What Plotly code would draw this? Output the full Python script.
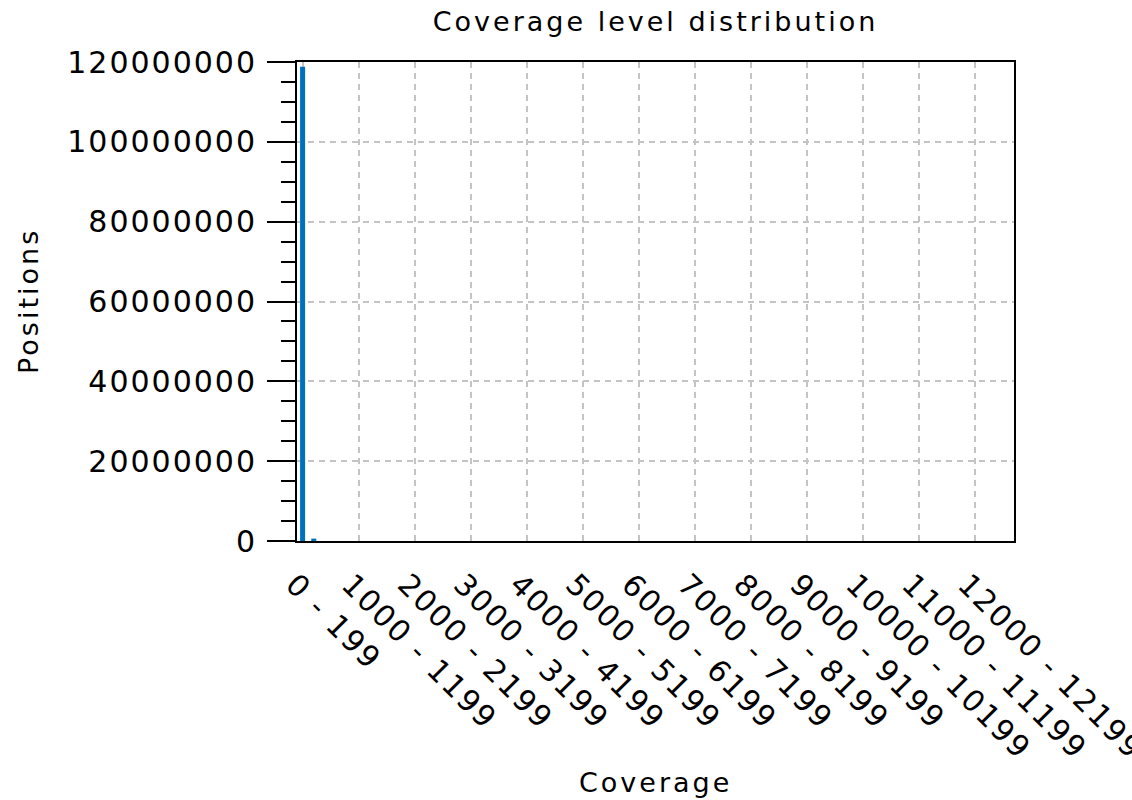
import plotly.graph_objects as go

# Coverage histogram: 64 bins of width 200 (bin index 0 = "0 - 199")
bin_index = list(range(64))
positions = [
    118800000, 600000, 0, 0, 0, 0, 0, 0,
    0, 0, 0, 0, 0, 0, 0, 0,
    0, 0, 0, 0, 0, 0, 0, 0,
    0, 0, 0, 0, 0, 0, 0, 0,
    0, 0, 0, 0, 0, 0, 0, 0,
    0, 0, 0, 0, 0, 0, 0, 0,
    0, 0, 0, 0, 0, 0, 0, 0,
    0, 0, 0, 0, 0, 0, 0, 0,
]

# Labelled bins (every 5th bin)
tick_bins = list(range(0, 61, 5))
tick_text = [f"{b * 200} - {b * 200 + 199}" for b in tick_bins]

y_ticks = list(range(0, 120000001, 20000000))

FONT = "DejaVu Sans"

fig = go.Figure(
    go.Bar(
        x=bin_index,
        y=positions,
        width=0.45,
        marker=dict(color="#0072bd", line=dict(width=0)),
    )
)

fig.update_layout(
    width=1132,
    height=800,
    paper_bgcolor="white",
    plot_bgcolor="white",
    margin=dict(l=297, r=118, t=62, b=259, autoexpand=False),
    showlegend=False,
    font=dict(family=FONT, color="black"),
    title=dict(
        text="Coverage level distribution",
        x=0.5,
        xref="paper",
        y=1 - 22 / 800,
        yanchor="middle",
        font=dict(family=FONT, size=27, color="black"),
    ),
    annotations=[
        dict(
            text="Coverage",
            xref="paper", yref="paper",
            x=0.5, y=0,
            xanchor="center", yanchor="middle",
            yshift=-241,
            showarrow=False,
            font=dict(family=FONT, size=27, color="black"),
        ),
        dict(
            text="Positions",
            xref="paper", yref="paper",
            x=0, y=0.5,
            xanchor="center", yanchor="middle",
            xshift=-269,
            textangle=-90,
            showarrow=False,
            font=dict(family=FONT, size=27, color="black"),
        ),
    ],
)

fig.update_xaxes(
    range=[-0.5, 63.5],
    tickmode="array",
    tickvals=tick_bins,
    ticktext=tick_text,
    tickangle=45,
    ticks="",
    ticklabeloverflow="allow",
    ticklabelstandoff=12,
    ticklabelshift=-8,
    tickfont=dict(family=FONT, size=30, color="black"),
    showline=True,
    linecolor="black",
    linewidth=2,
    mirror=True,
    showgrid=True,
    gridcolor="#c4c4c4",
    gridwidth=2,
    griddash="6px,5px",
    zeroline=False,
    automargin=False,
)

fig.update_yaxes(
    range=[0, 120000000],
    tickmode="array",
    tickvals=y_ticks,
    tickformat="d",
    ticks="outside",
    ticklen=28,
    tickwidth=2,
    tickcolor="black",
    ticklabelstandoff=4,
    tickfont=dict(family=FONT, size=30, color="black"),
    minor=dict(
        dtick=5000000,
        ticks="outside",
        ticklen=14,
        tickwidth=2,
        tickcolor="black",
        showgrid=False,
    ),
    showline=True,
    linecolor="black",
    linewidth=2,
    mirror=True,
    showgrid=True,
    gridcolor="#c4c4c4",
    gridwidth=2,
    griddash="6px,5px",
    zeroline=False,
    automargin=False,
)

# Slightly wider character spacing for all chart text
spacing_js = """
var gd = document.getElementById('{plot_id}');
function spaceText() {
  gd.querySelectorAll('.gtitle').forEach(function (t) { t.style.letterSpacing = '3px'; });
  gd.querySelectorAll('.annotation-text').forEach(function (t) { t.style.letterSpacing = '3px'; });
  gd.querySelectorAll('.xtick text, .ytick text').forEach(function (t) { t.style.letterSpacing = '2px'; });
}
spaceText();
gd.on('plotly_afterplot', spaceText);
"""

fig.write_html("out.html", post_script=spacing_js)
